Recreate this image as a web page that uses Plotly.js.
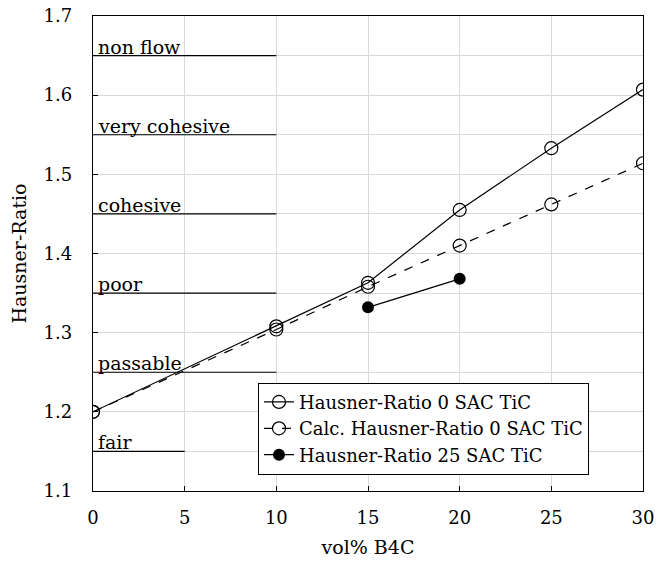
<!DOCTYPE html>
<html><head><meta charset="utf-8">
<script src="https://cdn.plot.ly/plotly-3.0.1.min.js"></script>
<style>html,body{margin:0;padding:0;background:#fff}</style>
</head><body>
<div id="chart" style="width:657px;height:564px"></div>
<script>
const volB4C = [0, 10, 15, 20, 25, 30];
const hr0 = [1.200, 1.308, 1.363, 1.455, 1.533, 1.607];
const calcHr0 = [1.200, 1.304, 1.358, 1.410, 1.462, 1.514];
const volB4C25 = [15, 20];
const hr25 = [1.332, 1.368];
const classNames = ["non flow", "very cohesive", "cohesive", "poor", "passable", "fair"];
const classBounds = [1.65, 1.55, 1.45, 1.35, 1.25, 1.15];
const classEnds = [10, 10, 10, 10, 10, 5];

const font = {family: "DejaVu Serif", color: "#000"};
const traces = [];
classNames.forEach((n, i) => {
  traces.push({x: [0, classEnds[i]], y: [classBounds[i], classBounds[i]], mode: "lines",
    line: {color: "#000", width: 1.2}, showlegend: false, hoverinfo: "skip"});
});
traces.push({x: volB4C, y: hr0, mode: "lines+markers", name: "Hausner-Ratio 0 SAC TiC",
  line: {color: "#000", width: 1.2}, marker: {symbol: "circle-open", size: 13, color: "#000", line: {width: 1.2}}});
traces.push({x: volB4C, y: calcHr0, mode: "lines+markers", name: "Calc. Hausner-Ratio 0 SAC TiC",
  line: {color: "#000", width: 1.2, dash: "dash"}, marker: {symbol: "circle-open", size: 13, color: "#000", line: {width: 1.2}}});
traces.push({x: volB4C25, y: hr25, mode: "lines+markers", name: "Hausner-Ratio 25 SAC TiC",
  line: {color: "#000", width: 1.2}, marker: {symbol: "circle", size: 12, color: "#000"}});

const annotations = classNames.map((n, i) => ({x: 0, y: classBounds[i], text: n, showarrow: false,
  xanchor: "left", yanchor: "bottom", xshift: 3, yshift: -4, font: Object.assign({size: 19}, font)}));

const layout = {
  width: 657, height: 564,
  margin: {l: 93, r: 14, t: 16, b: 73},
  paper_bgcolor: "#fff", plot_bgcolor: "#fff",
  font: Object.assign({size: 18}, font),
  showlegend: true,
  legend: {x: 0.3, y: 0.228, xanchor: "left", yanchor: "top", bgcolor: "#fff",
    bordercolor: "#000", borderwidth: 1, font: Object.assign({size: 18}, font), tracegroupgap: 0},
  xaxis: {range: [0, 30], dtick: 5, tick0: 0, showgrid: true, gridcolor: "#d9d9d9", gridwidth: 1,
    zeroline: false, showline: true, linecolor: "#000", linewidth: 1.2, mirror: true,
    ticks: "inside", ticklen: 5, tickcolor: "#000", ticklabelstandoff: 10,
    title: {text: "vol% B4C", font: Object.assign({size: 19}, font), standoff: 14}},
  yaxis: {range: [1.1, 1.7], dtick: 0.1, tick0: 1.1, tickformat: ".1f", showgrid: true, gridcolor: "#d9d9d9", gridwidth: 1,
    minor: {dtick: 0.05, showgrid: true, gridcolor: "#d9d9d9", gridwidth: 1},
    zeroline: false, showline: true, linecolor: "#000", linewidth: 1.2, mirror: true,
    ticks: "inside", ticklen: 5, tickcolor: "#000", ticklabelstandoff: 16,
    title: {text: "Hausner-Ratio", font: Object.assign({size: 19}, font), standoff: 12}},
  annotations: annotations
};
Plotly.newPlot("chart", traces, layout, {displayModeBar: false, staticPlot: true});
</script>
</body></html>
